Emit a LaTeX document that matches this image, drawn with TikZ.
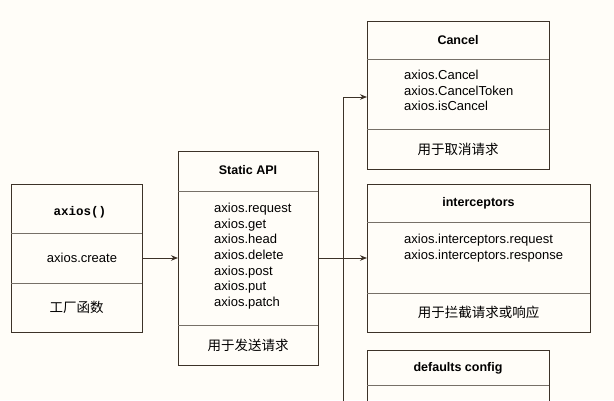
\documentclass[tikz,border=0pt]{standalone}
\usepackage{fontspec}
\setmainfont{Liberation Sans}
\newfontfamily\cjk{Noto Sans CJK SC}
\newfontfamily\monof{Liberation Mono}
\usetikzlibrary{arrows.meta}
\definecolor{ln}{RGB}{60,50,40}
\definecolor{bg}{RGB}{255,253,248}
\begin{document}
\begin{tikzpicture}[x=1pt,y=-1pt,
  box/.style={draw=ln,line width=0.9pt},
  sep/.style={draw=ln!70,line width=0.7pt},
  t/.style={font=\fontsize{13}{15.6}\selectfont,text=black,inner sep=0pt},
  tb/.style={font=\fontsize{12.5}{14}\selectfont\bfseries,text=black},
  tc/.style={font=\fontsize{13.5}{15}\selectfont\cjk,text=black},
  arr/.style={draw=ln,line width=0.9pt,-{Stealth[length=7pt,width=5.5pt]}}]
\fill[bg] (0,0) rectangle (614,400);
\useasboundingbox (0,0) rectangle (614,400);
% axios box
\node[box,minimum width=131pt,minimum height=148pt,anchor=north west] (fac) at (11,184) {};
\draw[sep] (11,233) -- (142,233) (11,283) -- (142,283);
\node[font=\fontsize{12.5}{14}\selectfont\monof\bfseries] (f1) at (80,212) {axios()};
\node[t] (f2) at (82,258) {axios.create};
\node[tc] (f3) at (76.5,307) {工厂函数};
% static API
\node[box,minimum width=140pt,minimum height=214pt,anchor=north west] (api) at (178,151) {};
\draw[sep] (178,191) -- (318,191) (178,325) -- (318,325);
\node[tb] (a1) at (248,170) {Static API};
\node[t,align=left,anchor=north west] (a2) at (214,203) {axios.request\\axios.get\\axios.head\\axios.delete\\axios.post\\axios.put\\axios.patch};
\node[tc] (a3) at (248,345) {用于发送请求};
% Cancel
\node[box,minimum width=182pt,minimum height=148pt,anchor=north west] (can) at (367,21) {};
\draw[sep] (367,59) -- (549,59) (367,129) -- (549,129);
\node[tb] (c1) at (458,40) {Cancel};
\node[t,align=left,anchor=north west] (c2) at (404,70) {axios.Cancel\\axios.CancelToken\\axios.isCancel};
\node[tc] (c3) at (458,149) {用于取消请求};
% interceptors
\node[box,minimum width=223pt,minimum height=148pt,anchor=north west] (int) at (367,184) {};
\draw[sep] (367,222) -- (590,222) (367,293) -- (590,293);
\node[tb] (i1) at (478.5,203) {interceptors};
\node[t,align=left,anchor=north west] (i2) at (404,234) {axios.interceptors.request\\axios.interceptors.response};
\node[tc] (i3) at (478.5,312) {用于拦截请求或响应};
% defaults
\draw[box] (367,410) -- (367,350) -- (549,350) -- (549,410);
\draw[sep] (367,385) -- (549,385);
\node[draw=none,minimum width=182pt,minimum height=35pt,anchor=north west] (def) at (367,350) {};
\node[tb] (d1) at (458,368) {defaults config};
% connectors
\coordinate (j) at (343,258);
\coordinate (jt) at (343,97);
\coordinate (jb) at (343,405);
\draw[arr] (fac.east |- 0,258) -- (api.west |- 0,258);
\draw[draw=ln,line width=0.9pt] (api.east |- j) -- (j);
\draw[draw=ln,line width=0.9pt] (jt) -- (jb);
\draw[arr] (jt) -- (can.west |- jt);
\draw[arr] (j) -- (int.west |- j);
\end{tikzpicture}
\end{document}
